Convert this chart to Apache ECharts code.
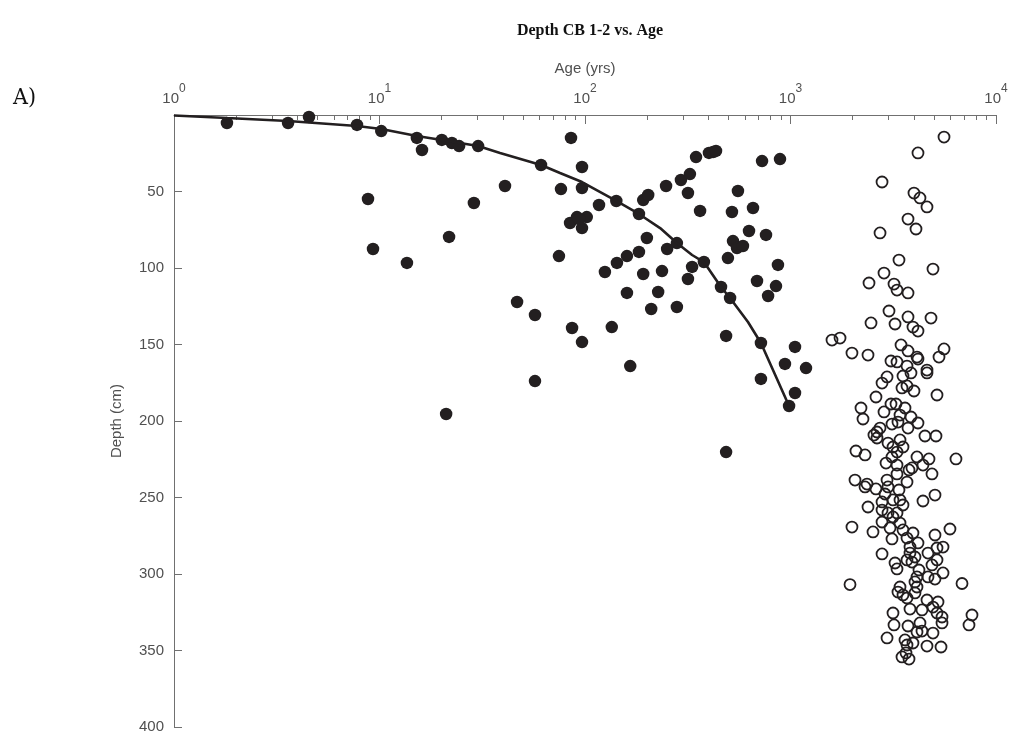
<!DOCTYPE html>
<html>
<head>
<meta charset="utf-8">
<title>Depth CB 1-2 vs. Age</title>
<script src="https://cdn.jsdelivr.net/npm/echarts@6/dist/echarts.min.js"></script>
<style>
  html, body { margin: 0; padding: 0; background: #ffffff; }
  #chart { width: 1013px; height: 736px; }
</style>
</head>
<body>
<div id="chart"></div>
<script>
// Dated samples on the fitted age model (filled markers)
const ageFilled = [
  1.81, 3.59, 4.54, 7.77, 10.2, 15.2, 16.1, 20.1, 22.5, 24.4,
  30.2, 61.1, 85.5, 96.7, 40.8, 76.4, 96.7, 28.8, 117, 142,
  192, 203, 183, 21.8, 84.6, 91.4, 102, 96.7, 93.5, 200,
  13.6, 74.7, 125, 143, 160, 183, 192, 160, 210, 46.7,
  57.1, 86.5, 96.7, 135, 248, 293, 324, 317, 347, 401,
  420, 434, 363, 727, 889, 555, 519, 657, 280, 251,
  237, 332, 379, 317, 227, 280, 525, 549, 587, 496,
  628, 760, 459, 508, 687, 869, 850, 778, 486, 718,
  1052, 166, 940, 1190, 718, 1052, 984, 486, 8.79, 9.30,
  21.1, 57.1
];
const depthFilled = [
  5.2, 5.2, 1.3, 6.5, 10.5, 15.0, 22.9, 16.3, 18.3, 20.3,
  20.3, 32.7, 15.0, 34.0, 46.4, 48.4, 47.7, 57.5, 58.8, 56.2,
  55.6, 52.3, 64.7, 79.7, 70.6, 66.7, 66.7, 73.9, 68.0, 80.4,
  96.7, 92.2, 102.6, 96.7, 92.2, 89.5, 103.9, 116.3, 126.8, 122.2,
  130.7, 139.2, 148.4, 138.6, 46.4, 42.5, 38.6, 51.0, 27.5, 24.8,
  24.2, 23.5, 62.7, 30.1, 28.8, 49.7, 63.4, 60.8, 83.7, 87.6,
  102.0, 99.3, 96.1, 107.2, 115.7, 125.5, 82.4, 86.9, 85.6, 93.5,
  75.8, 78.4, 112.4, 119.6, 108.5, 98.0, 111.8, 118.3, 144.4, 149.0,
  151.6, 164.1, 162.7, 165.4, 172.5, 181.7, 190.2, 220.3, 54.9, 87.6,
  195.4, 173.9
];

// Samples beyond the dating range (open markers)
const ageOpen = [
  5585, 4172, 2789, 3989, 4266, 4615, 3731, 4080, 2727, 3372,
  4936, 2851, 2410, 3189, 3298, 3731,
  3015, 3731, 4827, 2465, 3226, 3944, 4172, 1592, 1742, 1991,
  2383, 3450, 3731, 4126, 4172, 5585, 5280, 3083, 3298, 3689,
  4615, 4615, 3527, 3857, 2950, 2789, 3488, 3689, 3989, 2606,
  5163, 2203, 2253, 2851, 3083, 3261, 3607, 3411, 3857, 3118,
  3334, 3731, 4172, 2727, 2636, 2547, 2636, 2982, 3153, 3411,
  3527, 3298, 4512, 5105, 2082, 2305, 3118, 4126, 6386, 4720,
  2917, 3298, 3773, 3900, 4412, 4881, 2060, 2357, 2305, 2606,
  2950, 3298, 3689, 2982, 3372, 2884, 5048, 4412, 2383, 2789,
  3153, 3411, 3527, 2789, 2982, 3298,
  3153, 2789, 3411, 1991, 2520, 3050, 3527, 3944, 5048, 5970,
  3118, 3689, 4172, 3815, 5163, 5523, 4667, 2789, 3815, 4034,
  3689, 3900, 5163, 3226, 3298, 4881, 4219, 5523, 4126, 4667,
  5048, 1948, 6833, 3411, 3334, 3527, 4034, 4126, 4034, 3689,
  4615, 5221, 4936, 3815, 4363, 3153, 5163, 5461, 7641, 7389,
  3189, 3731, 4266, 4363, 4126, 5461, 4936, 2950, 3607, 3944,
  4615, 5400, 3689, 3488, 3648, 3773
];
const depthOpen = [
  14.4, 24.8, 43.8, 51.0, 54.2, 60.1, 68.0, 74.5, 77.1, 94.8,
  100.7, 103.3, 109.8, 110.5, 114.4, 116.3,
  128.1, 132.0, 132.7, 135.9, 136.6, 138.6, 141.2, 147.1, 145.8, 155.6,
  156.9, 150.3, 154.2, 158.2, 159.5, 152.9, 158.2, 160.8, 161.4, 164.1,
  166.7, 168.6, 170.6, 168.6, 171.2, 175.2, 178.4, 177.1, 180.4, 184.3,
  183.0, 191.5, 198.7, 194.1, 188.9, 188.9, 191.5, 196.1, 197.4, 202.0,
  200.7, 204.6, 201.3, 204.6, 207.2, 209.2, 211.1, 214.4, 217.0, 212.4,
  217.0, 220.3, 209.8, 209.8, 219.6, 222.2, 223.5, 223.5, 224.8, 224.8,
  227.5, 228.8, 232.0, 230.7, 228.8, 234.6, 238.6, 241.2, 243.1, 244.4,
  238.6, 234.6, 239.9, 243.1, 245.1, 247.7, 248.4, 252.3, 256.2, 252.9,
  251.6, 251.6, 254.9, 258.2, 260.1, 260.1,
  262.7, 266.0, 266.7, 269.3, 272.5, 269.9, 271.2, 273.2, 274.5, 270.6,
  277.1, 276.5, 279.7, 282.4, 283.0, 282.4, 286.3, 286.9, 286.3, 288.9,
  290.8, 292.2, 290.8, 292.8, 296.7, 294.1, 297.4, 299.3, 301.9, 301.9,
  303.3, 306.9, 306.2, 308.5, 311.8, 313.7, 305.2, 308.5, 312.4, 315.7,
  317.0, 318.3, 321.6, 322.9, 323.5, 325.5, 325.5, 328.1, 326.8, 333.3,
  333.3, 334.0, 332.0, 337.3, 337.9, 332.0, 338.6, 341.8, 343.1, 345.1,
  347.1, 347.7, 346.4, 354.2, 351.6, 355.6
];

// Age-depth model curve
const fitAge = [1, 1.81, 3.59, 7.77, 10.2, 15.2, 20.1, 30.2, 38.6, 61.1,
  75.6, 96.7, 142, 183, 232, 280, 332, 379, 459, 508, 621, 718, 984];
const fitDepth = [0.3, 2.0, 3.9, 7.2, 9.2, 13.7, 16.3, 20.3, 24.8, 32.7,
  37.9, 43.8, 56.2, 64.7, 73.9, 83.7, 91.5, 96.1, 112.4, 119.6, 135.3, 149.0, 190.2];

// Axis ticks
const xDecadeExponents = [0, 1, 2, 3, 4];
const xMinorMultipliers = [2, 3, 4, 5, 6, 7, 8, 9];
const yTicks = [50, 100, 150, 200, 250, 300, 350, 400];

const zip = (a, b) => a.map((v, i) => [v, b[i]]);

// minor ticks of the log axis, expressed in decades for the overlay axis
const minorTickDecades = [];
xDecadeExponents.slice(0, -1).forEach(e => {
  xMinorMultipliers.forEach(m => minorTickDecades.push(e + Math.log10(m)));
});

const ink = '#231f20';
const axisGray = '#707070';
const labelGray = '#505050';

const chart = echarts.init(document.getElementById('chart'), null, { renderer: 'canvas' });

chart.setOption({
  animation: false,
  backgroundColor: '#ffffff',
  title: [
    {
      text: 'Depth CB 1-2 vs. Age',
      left: 585,
      top: 18,
      textAlign: 'center',
      textStyle: { fontFamily: 'Liberation Serif', fontWeight: 'bold', fontSize: 16, color: '#111' }
    },
    {
      text: 'A)',
      left: 8,
      top: 82,
      textStyle: { fontFamily: 'DejaVu Serif Condensed', fontWeight: 'normal', fontSize: 23, color: '#111' }
    }
  ],
  grid: { left: 174, right: 17, top: 115, bottom: 9, containLabel: false },
  xAxis: [
    {
      type: 'log',
      logBase: 10,
      min: 1,
      max: 10000,
      position: 'top',
      name: 'Age (yrs)',
      nameLocation: 'middle',
      nameGap: 39,
      nameMoveOverlap: false,
      nameTextStyle: { fontFamily: 'Liberation Sans', fontSize: 15, color: labelGray },
      axisLine: { show: true, lineStyle: { color: axisGray, width: 1 } },
      axisTick: { show: true, inside: true, length: 9, lineStyle: { color: axisGray } },
      splitLine: { show: false },
      minorTick: { show: false },
      axisLabel: {
        margin: 9,
        color: labelGray,
        formatter: v => {
          const e = Math.round(Math.log10(v));
          return xDecadeExponents.includes(e) ? '{b|10}{s|' + e + '}' : '';
        },
        rich: {
          b: { fontFamily: 'Liberation Sans', fontSize: 15, color: labelGray, lineHeight: 23, verticalAlign: 'bottom' },
          s: { fontFamily: 'Liberation Sans', fontSize: 12, color: labelGray, lineHeight: 23, verticalAlign: 'top' }
        }
      }
    },
    {
      type: 'value',
      min: 0,
      max: 4,
      position: 'top',
      axisLine: { show: false },
      axisTick: { show: true, inside: true, length: 5, lineStyle: { color: axisGray }, customValues: minorTickDecades },
      axisLabel: { show: false },
      splitLine: { show: false }
    }
  ],
  yAxis: {
    type: 'value',
    inverse: true,
    min: 0,
    max: 400,
    interval: 50,
    name: 'Depth (cm)',
    nameLocation: 'middle',
    nameGap: 50,
    nameTextStyle: { fontFamily: 'Liberation Sans', fontSize: 15, color: labelGray },
    axisLine: { show: true, lineStyle: { color: axisGray, width: 1 } },
    axisTick: { show: true, inside: true, length: 8, lineStyle: { color: axisGray } },
    splitLine: { show: false },
    axisLabel: {
      margin: 10,
      fontFamily: 'Liberation Sans',
      fontSize: 15,
      color: labelGray,
      formatter: v => (yTicks.includes(v) ? String(v) : '')
    }
  },
  series: [
    {
      type: 'scatter',
      name: 'open',
      xAxisIndex: 0,
      data: zip(ageOpen, depthOpen),
      symbol: 'circle',
      symbolSize: 11,
      itemStyle: { color: 'rgba(0,0,0,0)', borderColor: ink, borderWidth: 1.8, opacity: 1 },
      z: 2
    },
    {
      type: 'scatter',
      name: 'dated',
      xAxisIndex: 0,
      data: zip(ageFilled, depthFilled),
      symbol: 'circle',
      symbolSize: 12.5,
      itemStyle: { color: ink, opacity: 1 },
      z: 3
    },
    {
      type: 'line',
      name: 'model',
      xAxisIndex: 0,
      data: zip(fitAge, fitDepth),
      showSymbol: false,
      symbol: 'none',
      lineStyle: { color: ink, width: 2.6 },
      z: 4
    }
  ]
});
</script>
</body>
</html>
